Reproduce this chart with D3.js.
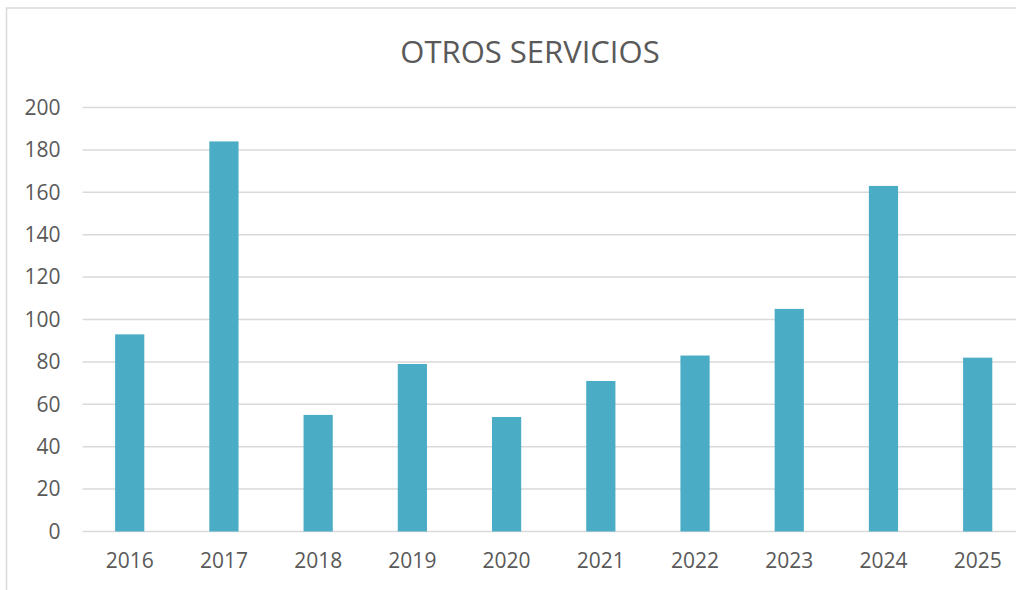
<!DOCTYPE html>
<html>
<head>
<meta charset="utf-8">
<script src="https://cdn.jsdelivr.net/npm/d3@7"></script>
<style>
  body { margin: 0; background: #fff; }
  svg { display: block; }
</style>
</head>
<body>
<svg id="chart"></svg>
<script>
// Données du graphique
const years = ["2016", "2017", "2018", "2019", "2020", "2021", "2022", "2023", "2024", "2025"];
const values = [93, 184, 55, 79, 54, 71, 83, 105, 163, 82];
const yTicks = [0, 20, 40, 60, 80, 100, 120, 140, 160, 180, 200];
const chartTitle = "OTROS SERVICIOS";

const width = 1016;
const height = 590;
// plot area (runs a bit past the right edge, like the original crop)
const margin = {top: 107.5, left: 82.6, plotRight: 1024.8, bottom: 531.5};

const barColor = "#4bacc6";
const gridColor = "#d9d9d9";
const textColor = "#595959";
const fontFamily = "'Open Sans', 'Liberation Sans', sans-serif";

const svg = d3.select("#chart")
  .attr("width", width)
  .attr("height", height);

// chart border
svg.append("rect")
  .attr("x", 6.5)
  .attr("y", 8)
  .attr("width", 1100)
  .attr("height", 700)
  .attr("fill", "#fff")
  .attr("stroke", gridColor)
  .attr("stroke-width", 1.5);

const x = d3.scaleBand()
  .domain(years)
  .range([margin.left, margin.plotRight])
  .paddingInner(0.69)
  .paddingOuter(0.345);

const y = d3.scaleLinear()
  .domain([0, 200])
  .range([margin.bottom, margin.top]);

// gridlines
svg.append("g")
  .selectAll("line")
  .data(yTicks)
  .enter()
  .append("line")
  .attr("x1", margin.left)
  .attr("x2", margin.plotRight)
  .attr("y1", d => y(d))
  .attr("y2", d => y(d))
  .attr("stroke", gridColor)
  .attr("stroke-width", 1.5);

// y labels
const yAxis = d3.axisLeft(y).tickValues(yTicks).tickSize(0).tickPadding(0);
const yG = svg.append("g")
  .attr("transform", "translate(" + (margin.left - 22) + ",0)")
  .call(yAxis);
yG.select(".domain").remove();
yG.selectAll("text")
  .attr("fill", textColor)
  .attr("font-family", fontFamily)
  .attr("font-size", "21px");

// bars
svg.append("g")
  .selectAll("rect")
  .data(values)
  .enter()
  .append("rect")
  .attr("x", (d, i) => x(years[i]))
  .attr("y", d => y(d))
  .attr("width", x.bandwidth())
  .attr("height", d => y(0) - y(d))
  .attr("fill", barColor);

// x labels
const xAxis = d3.axisBottom(x).tickSize(0).tickPadding(0);
const xG = svg.append("g")
  .attr("transform", "translate(0," + (margin.bottom + 22) + ")")
  .call(xAxis);
xG.select(".domain").remove();
xG.selectAll("text")
  .attr("fill", textColor)
  .attr("font-family", fontFamily)
  .attr("font-size", "21px");

// title
svg.append("text")
  .attr("x", 530)
  .attr("y", 63)
  .attr("text-anchor", "middle")
  .attr("fill", textColor)
  .attr("font-family", fontFamily)
  .attr("font-size", "31px")
  .text(chartTitle);
</script>
</body>
</html>
